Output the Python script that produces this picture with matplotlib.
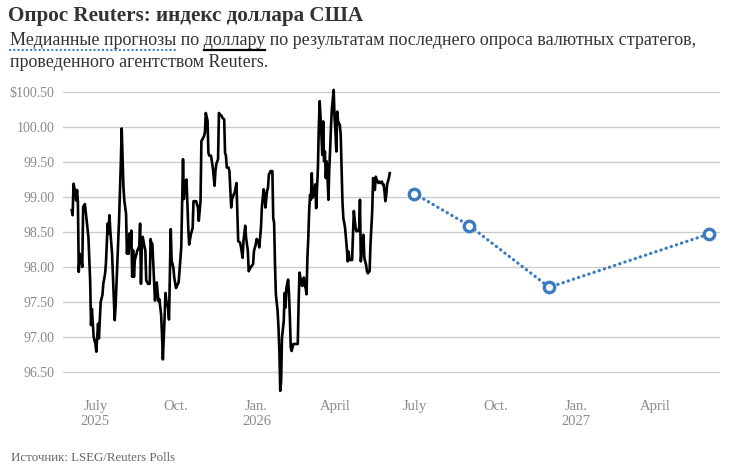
import matplotlib
matplotlib.use("Agg")
import matplotlib.pyplot as plt
import pandas as pd
from matplotlib.lines import Line2D

plt.rcParams['font.family'] = ['Liberation Serif', 'DejaVu Serif']

# Dollar index, days counted from 2025-07-01
obs_days = [-27, -26, -25, -23, -22, -21, -20, -19, -18, -16, -15, -14, -12, -10, -8, -6, -5, -4, -2, 0,
            1, 3, 4, 6, 8, 9, 11, 12, 14, 15, 16, 17, 19, 20, 22, 23, 25, 27, 29, 30,
            32, 33, 35, 36, 37, 38, 39, 40, 41, 42, 43, 44, 45, 47, 48, 50, 51, 52, 53, 54,
            56, 57, 58, 60, 62, 63, 64, 65, 67, 68, 70, 72, 73, 75, 76, 77, 79, 80, 81, 83,
            84, 85, 86, 87, 89, 90, 92, 93, 95, 96, 98, 99, 100, 101, 102, 104, 105, 106, 107, 109,
            110, 111, 112, 114, 115, 117, 118, 120, 121, 122, 124, 125, 126, 128, 129, 130, 132, 133, 134, 136,
            137, 138, 140, 141, 142, 144, 145, 147, 148, 149, 150, 152, 153, 155, 156, 158, 159, 161, 162, 163,
            165, 166, 168, 169, 171, 172, 174, 175, 177, 178, 180, 181, 183, 184, 186, 187, 189, 190, 192, 193,
            194, 196, 197, 198, 200, 201, 202, 203, 204, 205, 206, 208, 209, 210, 211, 212, 213, 215, 216, 217,
            218, 220, 221, 222, 223, 224, 226, 227, 230, 231, 232, 233, 235, 236, 238, 239, 240, 241, 242, 243,
            244, 245, 246, 247, 248, 249, 250, 251, 252, 254, 255, 256, 257, 258, 259, 260, 261, 262, 263, 264,
            265, 266, 267, 268, 269, 270, 272, 273, 274, 275, 276, 277, 279, 280, 281, 282, 283, 285, 286, 287,
            288, 289, 290, 292, 293, 294, 295, 297, 298, 300, 301, 302, 303, 304, 305, 306, 307, 309, 310, 311,
            313, 314, 316, 317, 318, 319, 320, 321, 322, 323, 324, 325, 327, 328, 329, 330, 331, 332, 333, 335,
            336]
obs_values = [98.81, 98.74, 99.19, 99.07, 98.95, 99.10, 98.93, 97.93, 98.19, 98.10, 98.00, 98.86, 98.90, 98.67, 98.43, 97.80, 97.17, 97.40, 97.00, 96.90,
              96.79, 97.19, 96.98, 97.50, 97.60, 97.76, 97.90, 98.05, 98.62, 98.48, 98.74, 98.52, 98.19, 97.86, 97.24, 97.43, 98.05, 98.67, 99.48, 99.98,
              99.14, 98.95, 98.76, 98.19, 98.38, 98.19, 98.48, 98.29, 98.52, 97.86, 98.24, 97.86, 98.10, 98.19, 98.24, 98.29, 98.62, 97.76, 98.29, 98.43,
              98.29, 98.24, 97.81, 97.76, 97.76, 98.40, 98.33, 98.33, 97.81, 97.52, 97.78, 97.51, 97.54, 97.32, 97.04, 96.68, 97.28, 97.63, 97.51, 97.42,
              97.25, 97.90, 98.54, 98.09, 97.99, 97.85, 97.70, 97.73, 97.78, 97.94, 98.28, 98.94, 99.54, 98.97, 99.18, 99.25, 98.90, 98.56, 98.32, 98.47,
              98.51, 98.56, 98.94, 98.94, 98.94, 98.85, 98.66, 98.94, 99.80, 99.82, 99.87, 99.92, 100.20, 100.09, 99.63, 99.59, 99.59, 99.51, 99.42, 99.16,
              99.37, 99.47, 99.54, 100.20, 100.18, 100.16, 100.13, 100.11, 99.63, 99.59, 99.42, 99.42, 99.37, 98.85, 98.97, 99.04, 99.06, 99.20, 98.80, 98.37,
              98.35, 98.30, 98.13, 98.37, 98.59, 98.42, 98.23, 97.94, 97.99, 98.01, 98.04, 98.23, 98.32, 98.40, 98.37, 98.28, 98.56, 98.85, 99.11, 99.04,
              98.85, 99.09, 99.13, 99.32, 99.37, 99.37, 99.37, 98.70, 98.63, 98.04, 97.61, 97.37, 97.13, 96.80, 96.23, 96.37, 96.99, 97.23, 97.63, 97.42,
              97.70, 97.82, 97.61, 97.28, 96.85, 96.80, 96.90, 96.90, 96.90, 96.90, 97.51, 97.92, 97.78, 97.73, 97.85, 97.73, 97.70, 97.61, 98.13, 98.41,
              98.80, 99.03, 98.96, 99.34, 98.99, 99.03, 99.08, 99.18, 98.84, 99.41, 99.99, 100.37, 100.13, 99.89, 99.60, 100.08, 99.51, 99.65, 99.27, 99.51,
              99.27, 98.96, 99.41, 99.70, 100.03, 100.27, 100.53, 100.13, 99.94, 99.65, 100.22, 100.08, 100.03, 99.89, 99.41, 98.94, 98.70, 98.56, 98.41, 98.27,
              98.08, 98.22, 98.10, 98.10, 98.10, 98.46, 98.80, 98.56, 98.51, 98.53, 98.51, 98.96, 98.08, 98.22, 98.37, 98.46, 98.13, 98.03, 97.94, 97.91,
              97.94, 98.32, 98.80, 99.27, 99.22, 99.10, 99.29, 99.25, 99.22, 99.20, 99.22, 99.20, 99.22, 99.18, 99.18, 99.08, 98.94, 99.03, 99.18, 99.27,
              99.34]

# Median forecasts from the poll
fc_dates = ["2026-06-30", "2026-09-01", "2026-12-01", "2027-06-01"]
fc_values = [99.05, 98.59, 97.71, 98.47]

ytick_vals = [96.5, 97.0, 97.5, 98.0, 98.5, 99.0, 99.5, 100.0, 100.5]
ytick_labels = ["96.50", "97.00", "97.50", "98.00", "98.50", "99.00", "99.50", "100.00", "$100.50"]
xtick_dates = ["2025-07-01", "2025-10-01", "2026-01-01", "2026-04-01",
               "2026-07-01", "2026-10-01", "2027-01-01", "2027-04-01"]
xtick_labels = ["July\n2025", "Oct.", "Jan.\n2026", "April", "July", "Oct.", "Jan.\n2027", "April"]

obs_dates = pd.Timestamp("2025-07-01") + pd.to_timedelta(obs_days, unit="D")
fc_dates = pd.to_datetime(fc_dates)

W, H = 736, 476
blue = "#3b7bbf"
fig = plt.figure(figsize=(W / 100, H / 100), dpi=100)
ax = fig.add_axes([63 / W, 1 - 393 / H, (720 - 63) / W, (393 - 85) / H])

ax.plot(obs_dates, obs_values, color="black", lw=1.9, zorder=3)
ax.plot(fc_dates, fc_values, color=blue, lw=2.3, ls=(0, (0.1, 1.6)), dash_capstyle="round",
        marker="o", ms=7.5, mfc="white", mec=blue, mew=2.4, zorder=4)

ax.set_ylim(96.2, 100.6)
ax.set_xlim(pd.Timestamp("2025-05-25"), pd.Timestamp("2027-06-14"))
ax.set_yticks(ytick_vals)
ax.set_yticklabels(ytick_labels)
ax.set_xticks(pd.to_datetime(xtick_dates))
ax.set_xticklabels(xtick_labels)
ax.tick_params(axis="both", length=0, colors="#8a8a8a")
ax.tick_params(axis="y", pad=6, labelsize=10)
ax.tick_params(axis="x", pad=5, labelsize=10.5)
ax.grid(axis="y", color="#cccccc", lw=1)
ax.set_axisbelow(True)
for s in ax.spines.values():
    s.set_visible(False)

# titles
fs_sub = 13
fig.text(8 / W, 1 - 21 / H, "Опрос Reuters: индекс доллара США", fontsize=15.2,
         fontweight="bold", color="#333333", va="baseline")
sub1 = "Медианные прогнозы по доллару по результатам последнего опроса валютных стратегов,"
x0 = 10 / W
fig.text(x0, 1 - 45 / H, sub1, fontsize=fs_sub, color="#333333", va="baseline")
fig.text(x0, 1 - 67 / H, "проведенного агентством Reuters.", fontsize=fs_sub, color="#333333", va="baseline")

r = fig.canvas.get_renderer()
def width(s):
    t = fig.text(0, 0, s, fontsize=fs_sub)
    w = t.get_window_extent(renderer=r).width
    t.remove()
    return w / W

w_med = width("Медианные прогнозы")
w_pre = width("Медианные прогнозы по доллару")
w_dol = width("доллару")
yu = 1 - 50 / H
fig.add_artist(Line2D([x0, x0 + w_med], [yu, yu], transform=fig.transFigure, color=blue,
                      lw=1.6, ls=(0, (0.1, 1.8)), dash_capstyle="round"))
fig.add_artist(Line2D([x0 + w_pre - w_dol, x0 + w_pre], [yu, yu], transform=fig.transFigure,
                      color="black", lw=1.6))

fig.text(11 / W, 1 - 461 / H, "Источник: LSEG/Reuters Polls", fontsize=9.3, color="#666666", va="baseline")

fig.savefig("out.png", dpi=100)
